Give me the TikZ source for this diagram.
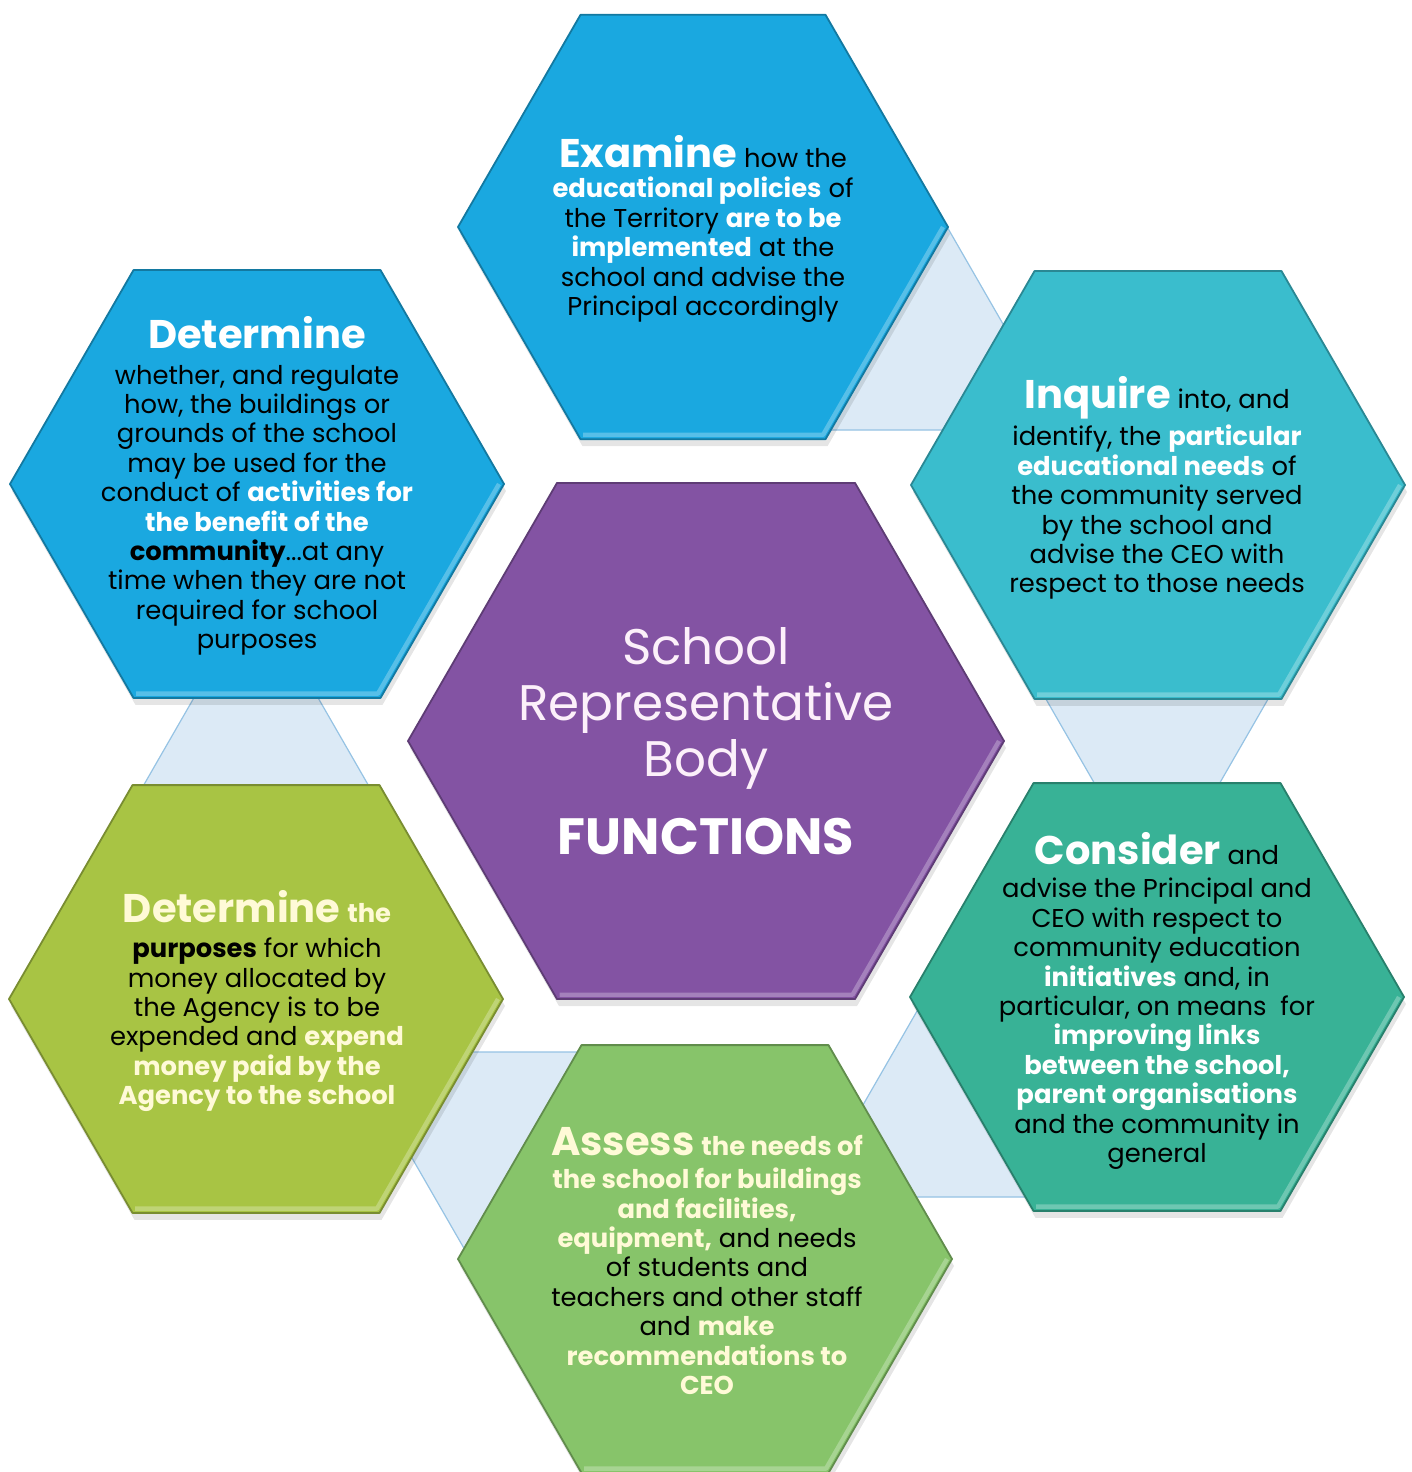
\documentclass[tikz,border=0pt]{standalone}
\usepackage{fontspec}
\setmainfont{Poppins}
\definecolor{hexblue}{RGB}{26,168,224}
\definecolor{hexteal}{RGB}{58,189,205}
\definecolor{hexsea}{RGB}{56,178,150}
\definecolor{hexgreen}{RGB}{135,196,106}
\definecolor{hexlime}{RGB}{168,196,68}
\definecolor{hexpurple}{RGB}{131,83,163}
\definecolor{palefill}{RGB}{220,234,246}
\definecolor{paleedge}{RGB}{150,195,228}
\definecolor{cream}{RGB}{255,250,215}
\definecolor{centertext}{RGB}{252,240,250}
\newcommand{\hexa}[4]{%
  \begin{scope}[shift={(#1,#2)}]
    \fill[black,opacity=0.10] ([shift={(2,7)}]0:#3) -- ([shift={(2,7)}]60:#3) -- ([shift={(2,7)}]120:#3) -- ([shift={(2,7)}]180:#3) -- ([shift={(2,7)}]240:#3) -- ([shift={(2,7)}]300:#3) -- cycle;
    \fill[#4] (0:#3) -- (60:#3) -- (120:#3) -- (180:#3) -- (240:#3) -- (300:#3) -- cycle;
    \draw[#4!55!white, line width=2.2pt, opacity=0.6, line join=round] (0:{#3-5}) -- (60:{#3-5}) -- (120:{#3-5});
    \draw[#4!72!black, line width=0.9pt, line join=round] (0:#3) -- (60:#3) -- (120:#3) -- (180:#3) -- (240:#3) -- (300:#3) -- cycle;
  \end{scope}}
\newcommand{\hdw}[1]{{\fontsize{20}{14.7}\selectfont\bfseries\color{white}#1}}
\newcommand{\hdc}[1]{{\fontsize{20}{14.7}\selectfont\bfseries\color{cream}#1}}
\newcommand{\wb}[1]{{\bfseries\color{white}#1}}
\newcommand{\cb}[1]{{\bfseries\color{cream}#1}}
\tikzset{
  body/.style={align=center, font=\fontsize{12.9}{14.7}\selectfont, text=black, inner sep=0pt},
  centre/.style={align=center, font=\fontsize{25}{28}\selectfont, text=centertext, inner sep=0pt},
  paletri/.style={fill=palefill, draw=paleedge, line width=0.6pt, line join=round}
}
\begin{document}
\begin{tikzpicture}[x=0.5pt,y=-0.5pt]
\path[use as bounding box, fill=white] (0,0) rectangle (1412,1472);
% pale connecting triangles
\coordinate (a1) at (946,225); \coordinate (a2) at (828,430); \coordinate (a3) at (1064,430);
\coordinate (c1) at (1157,892); \coordinate (c2) at (1039,687); \coordinate (c3) at (1275,687);
\coordinate (e1) at (928,992); \coordinate (e2) at (810,1197); \coordinate (e3) at (1046,1197);
\coordinate (d1) at (469,1257); \coordinate (d2) at (351,1052); \coordinate (d3) at (587,1052);
\coordinate (b1) at (256,590); \coordinate (b2) at (138,795); \coordinate (b3) at (374,795);
\fill[black,opacity=0.10] ([yshift=3]a2) rectangle ([yshift=7]a3);
\fill[black,opacity=0.10] ([yshift=3]e2) rectangle ([yshift=7]e3);
\draw[paletri] (a1) -- (a2) -- (a3) -- cycle;
\draw[paletri] (c1) -- (c2) -- (c3) -- cycle;
\draw[paletri] (e1) -- (e2) -- (e3) -- cycle;
\draw[paletri] (d1) -- (d2) -- (d3) -- cycle;
\draw[paletri] (b1) -- (b2) -- (b3) -- cycle;
% hexagons
\hexa{703}{227}{245}{hexblue}
\hexa{257}{484}{247}{hexblue}
\hexa{1158}{485}{247}{hexteal}
\hexa{706}{741}{298}{hexpurple}
\hexa{256}{999}{247}{hexlime}
\hexa{1157}{997}{247}{hexsea}
\hexa{705}{1259}{247}{hexgreen}
% texts
\node[body] (examine) at (703,229) {\hdw{Examine} how the\\[0.5pt] \wb{educational policies} of\\ the Territory \wb{are to be}\\ \wb{implemented} at the\\ school and advise the\\ Principal accordingly};
\node[body] (determineA) at (257,486) {\hdw{Determine}\\[3pt] whether, and regulate\\ how, the buildings or\\ grounds of the school\\ may be used for the\\ conduct of \wb{activities for}\\ \wb{the benefit of the}\\ \textbf{community}...at any\\ time when they are not\\ required for school\\ purposes};
\node[body] (inquire) at (1157,488) {\hdw{Inquire} into, and\\[2pt] identify, the \wb{particular}\\ \wb{educational needs} of\\ the community served\\ by the school and\\ advise the CEO with\\ respect to those needs};
\node[centre] (srb) at (706,741) {School\\ Representative\\ Body\\[11pt] {\fontsize{25.5}{28}\selectfont\bfseries\color{white}FUNCTIONS}};
\node[body] (consider) at (1157,1001) {\hdw{Consider} and\\[2pt] advise the Principal and\\ CEO with respect to\\ community education\\ \wb{initiatives} and, in\\ particular, on means\ \ for\\ \wb{improving links}\\ \wb{between the school,}\\ \wb{parent organisations}\\ and the community in\\ general};
\node[body] (determineB) at (257,1001) {\hdc{Determine} \cb{the}\\[3pt] \textbf{purposes} for which\\ money allocated by\\ the Agency is to be\\ expended and \cb{expend}\\ \cb{money paid by the}\\ \cb{Agency to the school}};
\node[body] (assess) at (707,1261) {\hdc{Assess} \cb{the needs of}\\[2pt] \cb{the school for buildings}\\ \cb{and facilities,}\\ \cb{equipment,} and needs\\ of students and\\ teachers and other staff\\ and \cb{make}\\ \cb{recommendations to}\\ \cb{CEO}};
\end{tikzpicture}
\end{document}
